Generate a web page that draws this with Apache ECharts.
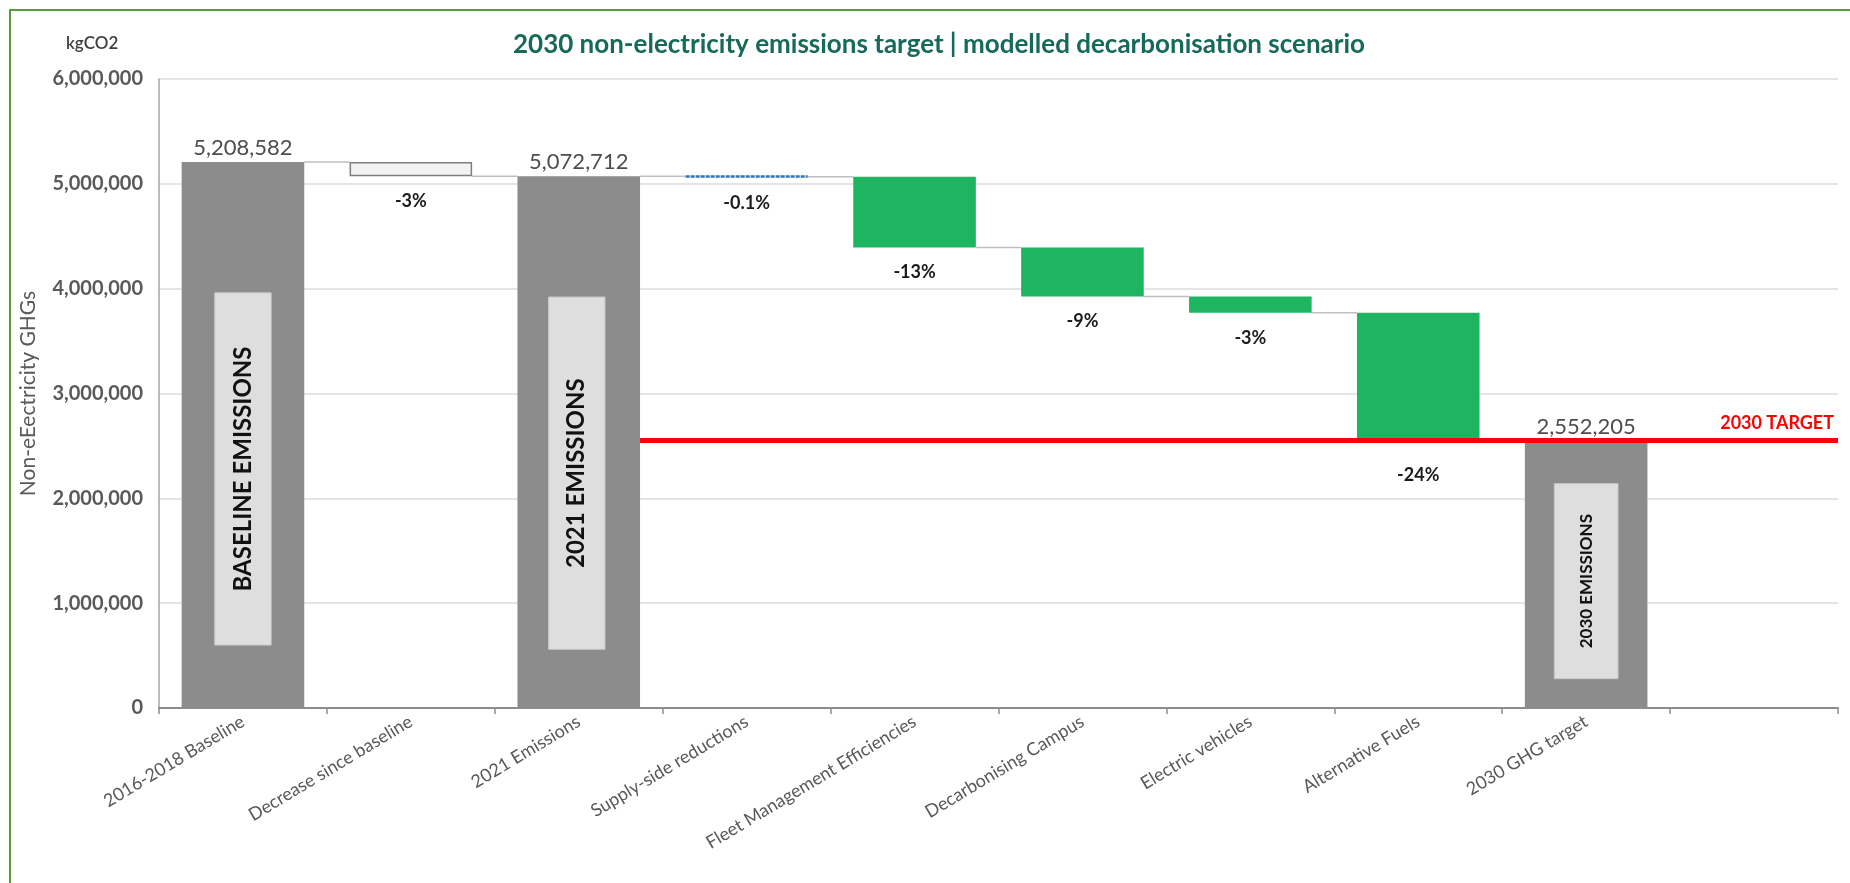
<!DOCTYPE html>
<html><head><meta charset="utf-8">
<script src="https://cdn.jsdelivr.net/npm/echarts@6/dist/echarts.min.js"></script>
<style>
html,body{margin:0;padding:0;width:1850px;height:883px;overflow:hidden;background:#fff;}
#frame{position:absolute;left:9px;top:9px;width:1900px;height:1000px;border:2px solid #5b9a3b;box-sizing:border-box;}
#chart{position:absolute;left:0;top:0;width:1850px;height:883px;}
</style></head><body>
<div id="frame"></div><div id="chart"></div>
<script>
// ---- data ----
const categories = ['2016-2018 Baseline', 'Decrease since baseline', '2021 Emissions', 'Supply-side reductions',
  'Fleet Management Efficiencies', 'Decarbonising Campus', 'Electric vehicles', 'Alternative Fuels', '2030 GHG target', ''];
const totalValues  = [5208582, null, 5072712, null, null, null, null, null, 2552205, null];
const changeValues = [null, -135870, null, -5072, -675640, -467000, -155000, -1217795, null, null];
const changeLabels = ['', '-3%', '', '-0.1%', '-13%', '-9%', '-3%', '-24%', '', ''];
const changeKinds  = ['', 'decrease', '', 'supply', 'measure', 'measure', 'measure', 'measure', '', ''];
const totalBoxTexts = ['BASELINE EMISSIONS', '', '2021 EMISSIONS', '', '', '', '', '', '2030 EMISSIONS', ''];
const totalBoxTop    = [3960000, null, 3920000, null, null, null, null, null, 2140000, null];
const totalBoxBottom = [600000, null, 560000, null, null, null, null, null, 280000, null];
const targetValue = 2552205;
const targetText = '2030 TARGET';
const yTicks = [0, 1000000, 2000000, 3000000, 4000000, 5000000, 6000000];

// ---- derived running levels ----
const levelBefore = [], levelAfter = [];
let lvl = 0;
for (let i = 0; i < categories.length; i++) {
  levelBefore[i] = lvl;
  if (totalValues[i] != null) lvl = totalValues[i];
  else if (changeValues[i] != null) lvl = lvl + changeValues[i];
  levelAfter[i] = lvl;
}
const BAR = 0.73;
const FONT = 'Lato, "Open Sans", sans-serif';
const GRAY = '#595959';

const baseData = categories.map((c, i) => changeValues[i] != null ? Math.min(levelBefore[i], levelAfter[i]) : '-');
const totalData = categories.map((c, i) => totalValues[i] != null ? totalValues[i] : '-');
function changeData(kind) {
  return categories.map((c, i) => {
    if (changeKinds[i] !== kind) return '-';
    const item = { value: Math.abs(changeValues[i]) };
    if (i === 7) item.label = { distance: 26 };
    return item;
  });
}
const pctLabel = {
  show: true, position: 'bottom', distance: 16,
  formatter: p => changeLabels[p.dataIndex],
  color: '#1a1a1a', fontWeight: 'bold', fontSize: 18, fontFamily: FONT
};

const connectorData = [];
for (let i = 0; i < categories.length - 1; i++) {
  if (totalValues[i + 1] == null && changeValues[i + 1] == null) continue;
  connectorData.push([i, levelAfter[i]]);
}
const boxData = [];
for (let i = 0; i < categories.length; i++) {
  if (totalBoxTop[i] != null) boxData.push([i, totalBoxTop[i], totalBoxBottom[i], totalBoxTexts[i]]);
}

const chart = echarts.init(document.getElementById('chart'), null, { renderer: 'canvas' });
chart.setOption({
  backgroundColor: 'transparent',
  animation: false,
  title: {
    text: '2030 non-electricity emissions target | modelled decarbonisation scenario',
    left: 934, top: 27, textAlign: 'center',
    textStyle: { color: '#17695a', fontSize: 26, fontWeight: 'bold', fontFamily: FONT }
  },
  graphic: [{
    type: 'text', left: 66, top: 35,
    style: { text: 'kgCO2', fill: '#404040', font: '600 17px ' + FONT }
  }],
  grid: { left: 159, right: 12, top: 79, bottom: 175, containLabel: false },
  xAxis: {
    type: 'category', data: categories,
    axisLine: { lineStyle: { color: '#8c8c8c', width: 2 } },
    axisTick: { show: true, length: 6, lineStyle: { color: '#8c8c8c', width: 1.5 } },
    axisLabel: { rotate: 31, margin: 12, color: GRAY, fontSize: 18, fontFamily: FONT, interval: 0 },
    splitLine: { show: false }
  },
  yAxis: {
    type: 'value', min: 0, max: 6000000, interval: 1000000,
    name: 'Non-eEectricity GHGs', nameLocation: 'middle', nameGap: 120, nameRotate: 90,
    nameTextStyle: { color: GRAY, fontSize: 21, fontFamily: FONT },
    axisLine: { show: true, lineStyle: { color: '#a6a6a6', width: 1.5 } },
    axisTick: { show: false },
    axisLabel: {
      margin: 16, color: GRAY, fontSize: 20, fontWeight: 'bold', fontFamily: FONT,
      formatter: v => yTicks.includes(v) ? v.toLocaleString('en-US') : ''
    },
    splitLine: { lineStyle: { color: '#dcdcdc', width: 1.5 } }
  },
  series: [
    { name: 'base', type: 'bar', stack: 'wf', barWidth: (BAR * 100) + '%', data: baseData,
      itemStyle: { color: 'transparent' }, silent: true },
    { name: 'total', type: 'bar', stack: 'wf', barWidth: (BAR * 100) + '%', data: totalData,
      itemStyle: { color: '#8c8c8c' },
      label: { show: true, position: 'top', distance: 3, color: '#4d4d4d', fontSize: 22, fontFamily: FONT,
        formatter: p => Number(p.value).toLocaleString('en-US') } },
    { name: 'decrease', type: 'bar', stack: 'wf', barWidth: (BAR * 100) + '%', data: changeData('decrease'),
      itemStyle: { color: '#f2f2f2', borderColor: '#7f7f7f', borderWidth: 1.5 }, label: pctLabel },
    { name: 'supply', type: 'bar', stack: 'wf', barWidth: (BAR * 100) + '%', data: changeData('supply'),
      itemStyle: { color: '#bdd7ee', borderColor: '#2e75b6', borderWidth: 2.5, borderType: 'dotted' }, label: pctLabel },
    { name: 'measure', type: 'bar', stack: 'wf', barWidth: (BAR * 100) + '%', data: changeData('measure'),
      itemStyle: { color: '#1db55f' }, label: pctLabel },
    { name: 'connectors', type: 'custom', data: connectorData, z: 1, silent: true,
      renderItem: (params, api) => {
        const i = api.value(0), v = api.value(1);
        const slot = api.size([1, 0])[0];
        const a = api.coord([i, v]), b = api.coord([i + 1, v]);
        return { type: 'line', shape: { x1: a[0] + slot * BAR / 2, y1: a[1], x2: b[0] - slot * BAR / 2, y2: b[1] },
          style: { stroke: '#bfbfbf', lineWidth: 1.5 } };
      } },
    { name: 'boxes', type: 'custom', data: boxData, z: 5, silent: true,
      renderItem: (params, api) => {
        const i = api.value(0);
        const slot = api.size([1, 0])[0];
        const top = api.coord([i, api.value(1)]), bot = api.coord([i, api.value(2)]);
        const txt = boxData[params.dataIndex][3];
        const small = i === 8;
        const w = slot * BAR * (small ? 0.52 : 0.46);
        const cx = top[0] + (i === 2 ? -2 : 0);
        return { type: 'group', children: [
          { type: 'rect', shape: { x: cx - w / 2, y: top[1], width: w, height: bot[1] - top[1] },
            style: { fill: '#dedede', stroke: '#c8c8c8', lineWidth: 1 } },
          { type: 'text', x: cx, y: (top[1] + bot[1]) / 2, rotation: Math.PI / 2,
            style: { text: txt, x: 0, y: 0, align: 'center', verticalAlign: 'middle', fill: '#111',
              font: 'bold ' + (small ? 17 : 24) + 'px ' + FONT } }
        ] };
      } },
    { name: 'target', type: 'custom', data: [[2, targetValue]], z: 10, silent: true,
      renderItem: (params, api) => {
        const slot = api.size([1, 0])[0];
        const p = api.coord([api.value(0), api.value(1)]);
        const x1 = p[0] + slot * BAR / 2;
        const x2 = params.coordSys.x + params.coordSys.width;
        return { type: 'group', children: [
          { type: 'line', shape: { x1: x1, y1: p[1], x2: x2, y2: p[1] }, style: { stroke: '#ff0000', lineWidth: 5 } },
          { type: 'text', x: x2 - 4, y: p[1] - 8,
            style: { text: targetText, align: 'right', verticalAlign: 'bottom', fill: '#ff0000', font: 'bold 18px ' + FONT } }
        ] };
      } }
  ]
});
</script>
</body></html>
